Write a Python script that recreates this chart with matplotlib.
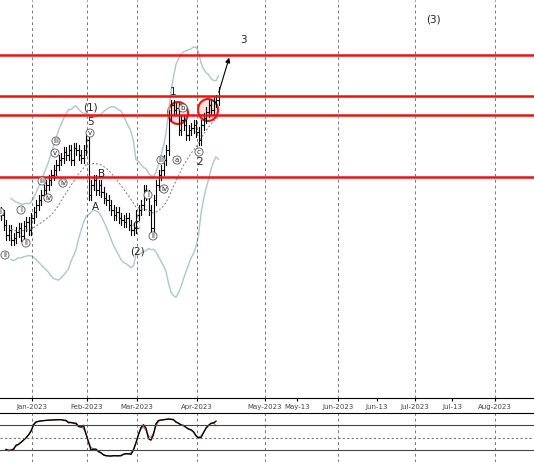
import numpy as np
import matplotlib
matplotlib.use("Agg")
import matplotlib.pyplot as plt
from matplotlib.patches import Ellipse

# closes in pixel-row units (converted to price below)
close_rows = [215,225,235,230,240, 238,232,228,236,226, 222,230,218,212,205,
              200,195,190,185,180, 175,170,165,160,158, 152,155,150,160,148,
              150,155,158,150,140, 195, 185,180,190,185,192, 198,200,205,210,215,
              212,218,220,222,218, 225,230,228,215,210, 205,190,195,210,228,
              200,185,175,170,160, 150,115,105,110,108, 130,120,125,135,130,
              128,125,132,140,125, 118,112,105,110,102, 100,92]
levels = [345, 304, 285, 223]
tick_pos = [32, 87, 137, 197, 265, 338, 415, 495]
tick_lab = ["Jan-2023", "Feb-2023", "Mar-2023", "Apr-2023", "May-2023", "Jun-2023", "Jul-2023", "Aug-2023"]
minor_pos = [297, 377, 452]
minor_lab = ["May-13", "Jun-13", "Jul-13"]

W, H = 534, 462
fig = plt.figure(figsize=(W/100, H/100), dpi=100)
ax = fig.add_axes([0, 1-398/H, 1, 398/H])
ox = fig.add_axes([0, 0, 1, 49/H])

c = 400 - np.array(close_rows, float)
n = len(c)
x = 1 + 2.5*np.arange(n)
o = np.r_[c[0]+3, c[:-1]]
hi = np.maximum(o, c) + 5
lo = np.minimum(o, c) - 5
for i in range(n):
    ax.plot([x[i], x[i]], [lo[i], hi[i]], color="black", lw=0.8)
    ax.plot([x[i]-0.8, x[i]], [o[i], o[i]], color="black", lw=0.8)
    ax.plot([x[i], x[i]+0.8], [c[i], c[i]], color="black", lw=0.8)

win = 20
s = np.array([np.mean(c[max(0, i-win+1):i+1]) for i in range(n)])
sd = np.array([np.std(c[max(0, i-win+1):i+1]) for i in range(n)])
ax.plot(x[4:], (s+2.6*sd+8)[4:], color="#a9c9c9", lw=1)
ax.plot(x[4:], (s-2.6*sd-8)[4:], color="#a9c9c9", lw=1)
ax.plot(x[4:], s[4:], color="#777777", lw=0.7, ls=(0, (2, 2)))

for lv in levels:
    ax.axhline(lv, color="#ee1111", lw=1.8)
for p in tick_pos:
    ax.axvline(p, color="#777777", lw=0.7, ls=(0, (3, 3)))
    ox.axvline(p, color="#777777", lw=0.7, ls=(0, (3, 3)))
ax.set_xlim(0, W); ax.set_ylim(2, 400)
ax.set_xticks(tick_pos + minor_pos)
ax.set_xticklabels(tick_lab + minor_lab, fontsize=5, color="#444444")
ax.tick_params(axis="x", length=2, pad=2)
ax.set_yticks([])
for sp in ax.spines.values():
    sp.set_visible(False)
ax.spines["bottom"].set_visible(True)

def t(xp, yp, s_, fs=7.5, circ=False):
    kw = dict(ha="center", va="center", fontsize=fs, color="#222222")
    if circ:
        kw["bbox"] = dict(boxstyle="circle,pad=0.15", fc="white", ec="#555555", lw=0.6)
        kw["fontsize"] = 5
    ax.text(xp, 400-yp, s_, **kw)

t(90, 108, "(1)"); t(90, 122, "5"); t(90, 133, "v", circ=True)
t(95, 207, "A"); t(102, 174, "B"); t(136, 226, "C"); t(137, 252, "(2)")
t(173, 92, "1"); t(200, 162, "2"); t(243, 40, "3"); t(433, 20, "(3)")
for (xp, yp, s_) in [(177, 160, "a"), (183, 108, "b"), (199, 152, "c"), (153, 236, "ii"),
                     (148, 195, "i"), (161, 160, "iii"), (164, 189, "iv"), (56, 141, "iii"),
                     (63, 183, "iv"), (26, 243, "ii"), (21, 210, "i"), (5, 255, "ii"),
                     (0, 212, "i"), (55, 153, "v"), (42, 181, "iii"), (48, 198, "iv")]:
    t(xp, yp, s_, circ=True)
ax.add_patch(Ellipse((178, 400-113), 20, 22, fc=(1, 0, 0, 0.12), ec="#ee1111", lw=1.5))
ax.add_patch(Ellipse((208, 400-110), 20, 22, fc=(1, 0, 0, 0.12), ec="#ee1111", lw=1.5))
ax.annotate("", xy=(230, 400-55), xytext=(218, 400-95),
            arrowprops=dict(arrowstyle="-|>", color="black", lw=0.8, mutation_scale=7))

# stochastic oscillator
k = np.array([(c[i]-lo[max(0, i-13):i+1].min())/(hi[max(0, i-13):i+1].max()-lo[max(0, i-13):i+1].min())*100 for i in range(n)])
ks = np.convolve(k, np.ones(3)/3, mode="same")
ds = np.convolve(ks, np.ones(3)/3, mode="same")
ox.plot(x[2:-1], ds[2:-1], color="#cc6666", lw=0.8)
ox.plot(x[2:-1], ks[2:-1], color="black", lw=1)
ox.axhline(80, color="#444444", lw=0.8)
ox.axhline(20, color="#444444", lw=0.8)
ox.axhline(50, color="#777777", lw=0.8, ls=(0, (2, 2)))
ox.set_xlim(0, W); ox.set_ylim(-8, 110)
ox.set_xticks([]); ox.set_yticks([])
for sp in ox.spines.values():
    sp.set_visible(False)
ox.spines["top"].set_visible(True)
fig.savefig("out.png", dpi=100)
